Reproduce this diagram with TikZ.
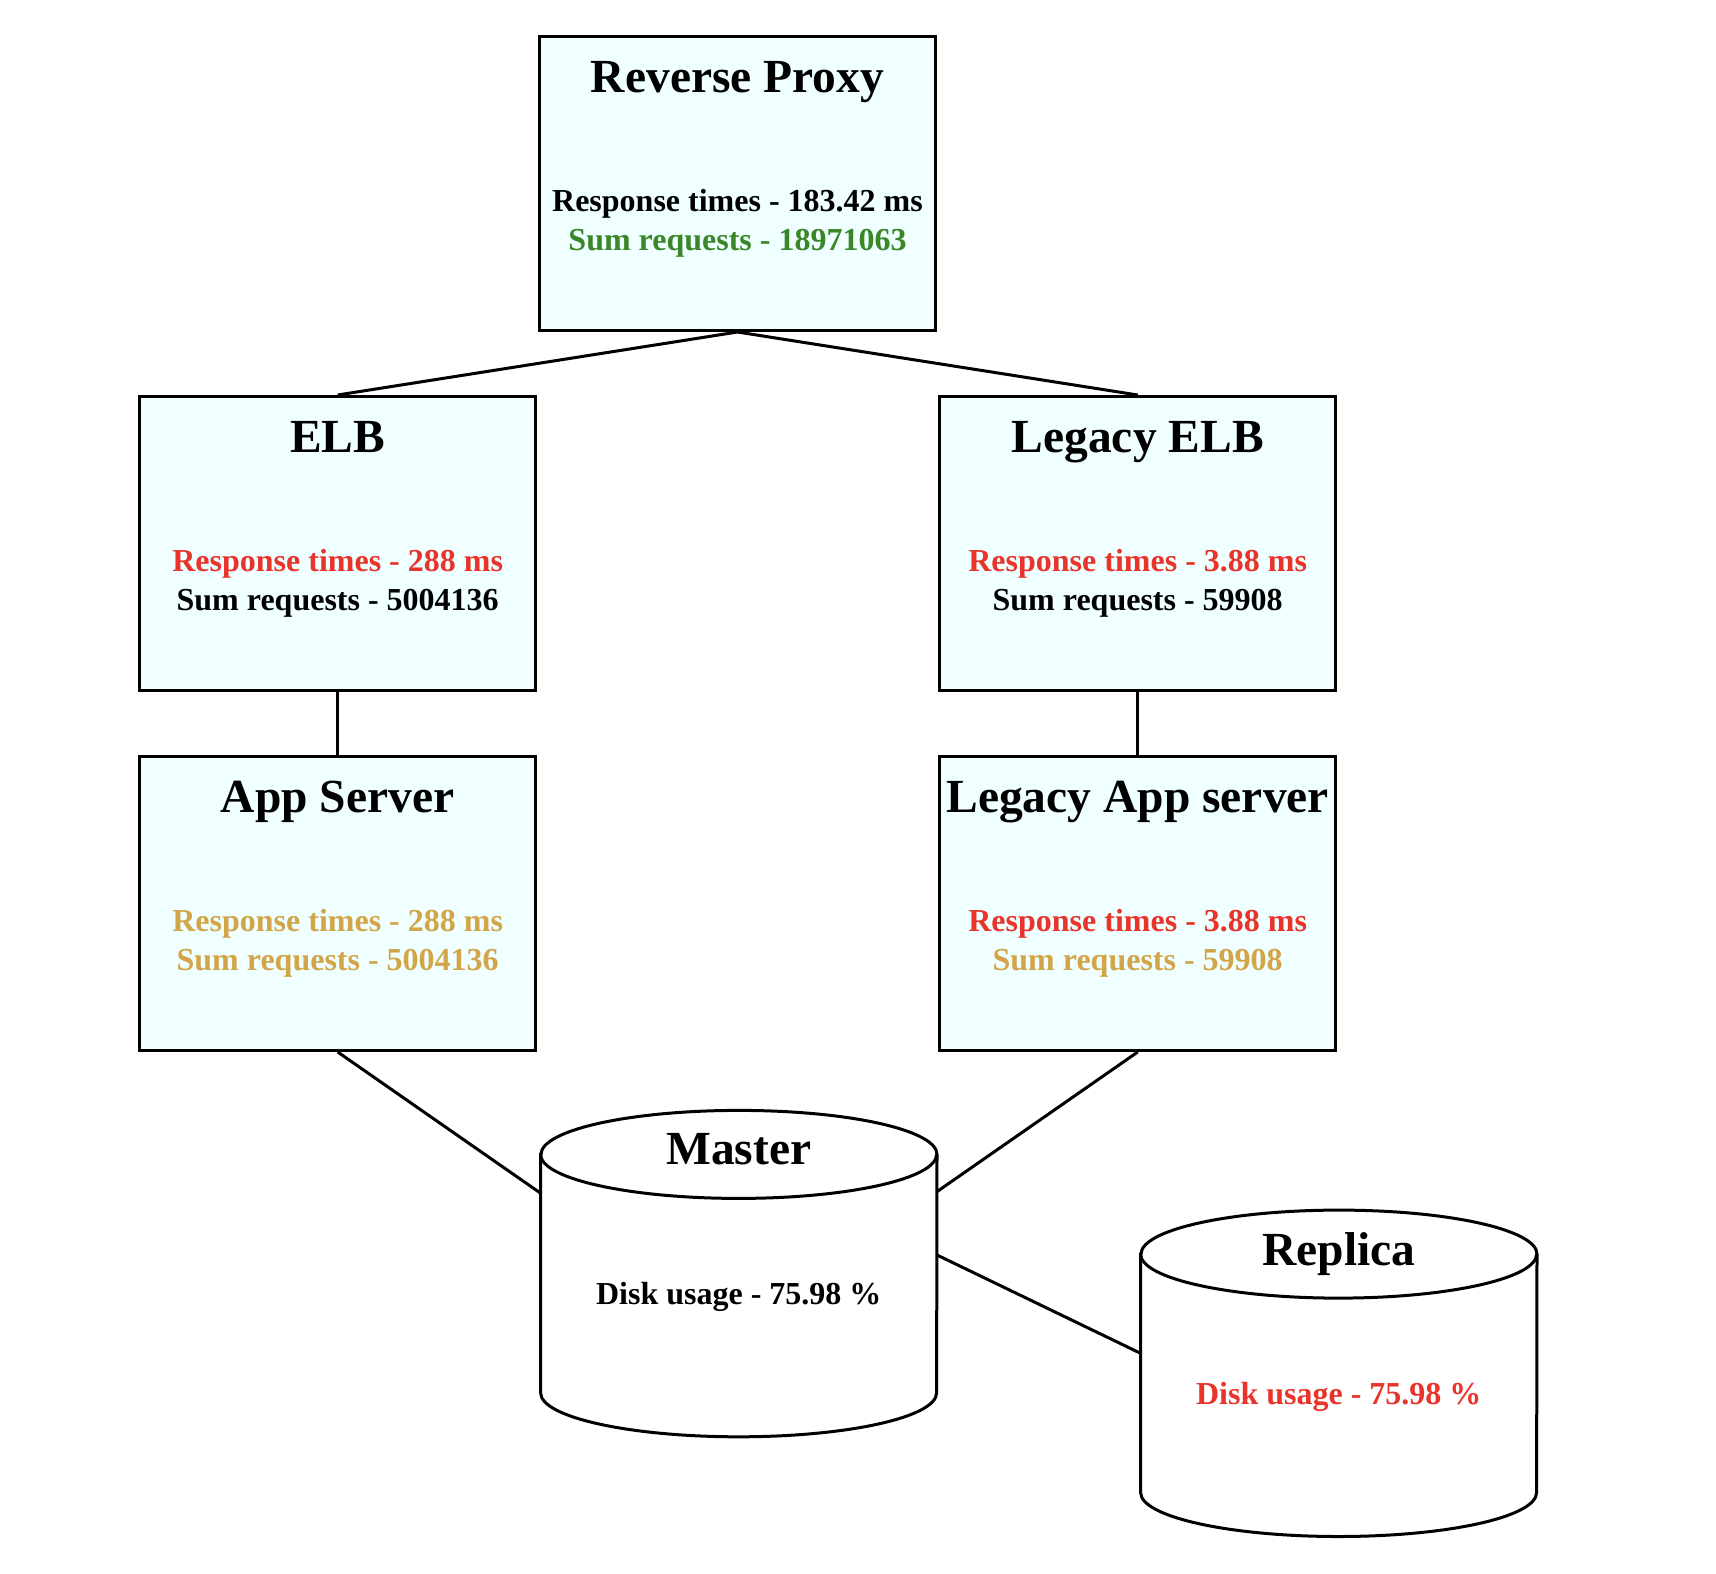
\documentclass[tikz,border=0pt]{standalone}
\usepackage{fontspec}
\setmainfont{Liberation Serif}
\usetikzlibrary{calc}
\definecolor{boxfill}{RGB}{240,255,255}
\definecolor{okgreen}{RGB}{58,135,40}
\definecolor{badred}{RGB}{232,52,42}
\definecolor{warngold}{RGB}{210,165,72}
\begin{document}
\begin{tikzpicture}[x=1pt,y=-1pt,
  svcbox/.style={draw, line width=3pt, fill=boxfill, minimum width=396pt, minimum height=294pt, inner sep=0pt},
  dbarea/.style={draw=none, minimum width=396pt, minimum height=326pt, inner sep=0pt},
  title/.style={anchor=base, inner sep=0pt, font=\fontsize{47.5}{57}\selectfont\bfseries},
  body/.style={anchor=base, inner sep=0pt, font=\fontsize{32}{38}\selectfont\bfseries},
  conn/.style={line width=3pt},
  cylline/.style={line width=3pt}]
\fill[white] (0,0) rectangle (1716,1574);
\useasboundingbox (0,0) rectangle (1716,1574);

% boxes
\node[svcbox] (rp)   at (737.5,183.5) {};
\node[svcbox] (elb)  at (337.7,543.5) {};
\node[svcbox] (lelb) at (1137.7,543.5) {};
\node[svcbox] (app)  at (337.7,903.5) {};
\node[svcbox] (lapp) at (1137.7,903.5) {};

% cylinder areas
\node[dbarea] (master)  at (738.8,1273.6) {};
\node[dbarea] (replica) at (1338.8,1373.3) {};

% connectors
\draw[conn] (rp.south) -- (elb.north);
\draw[conn] (rp.south) -- (lelb.north);
\draw[conn] (elb.south) -- (app.north);
\draw[conn] (lelb.south) -- (lapp.north);
\coordinate (mAppIn)  at ($(master.west)+(0,-80.4)$);
\coordinate (mLAppIn) at ($(master.east)+(0,-82)$);
\coordinate (mRepOut) at ($(master.east)+(0,-18.6)$);
\coordinate (rIn)     at ($(replica.west)+(0,-20)$);
\draw[conn] (app.south) -- (mAppIn);
\draw[conn] (lapp.south) -- (mLAppIn);
\draw[conn] (mRepOut) -- (rIn);

% cylinders
\foreach \c in {master,replica}{
  \draw[cylline, fill=white]
    ($(\c.north west)+(0,44)$) -- ($(\c.south west)+(0,-44)$)
    arc[start angle=180, end angle=360, x radius=198pt, y radius=44pt]
    -- ($(\c.north east)+(0,44)$)
    arc[start angle=0, end angle=180, x radius=198pt, y radius=44pt] -- cycle;
  \draw[cylline] ($(\c.north west)+(0,44)$)
    arc[start angle=180, end angle=360, x radius=198pt, y radius=44pt];
}

% texts: Reverse Proxy
\node[title] (rpT) at ($(rp.north)+(0,57)$) {Reverse Proxy};
\node[body] (rpA) at ($(rp.north)+(0,176.5)$) {Response times - 183.42 ms};
\node[body, text=okgreen] (rpB) at ($(rp.north)+(0,215)$) {Sum requests - 18971063};

% ELB
\node[title] (elbT) at ($(elb.north)+(0,57)$) {ELB};
\node[body, text=badred] (elbA) at ($(elb.north)+(0,176.5)$) {Response times - 288 ms};
\node[body] (elbB) at ($(elb.north)+(0,215)$) {Sum requests - 5004136};

% Legacy ELB
\node[title] (lelbT) at ($(lelb.north)+(0,57)$) {Legacy ELB};
\node[body, text=badred] (lelbA) at ($(lelb.north)+(0,176.5)$) {Response times - 3.88 ms};
\node[body] (lelbB) at ($(lelb.north)+(0,215)$) {Sum requests - 59908};

% App Server
\node[title] (appT) at ($(app.north)+(0,57)$) {App Server};
\node[body, text=warngold] (appA) at ($(app.north)+(0,176.5)$) {Response times - 288 ms};
\node[body, text=warngold] (appB) at ($(app.north)+(0,215)$) {Sum requests - 5004136};

% Legacy App server
\node[title] (lappT) at ($(lapp.north)+(0,57)$) {Legacy App server};
\node[body, text=badred] (lappA) at ($(lapp.north)+(0,176.5)$) {Response times - 3.88 ms};
\node[body, text=warngold] (lappB) at ($(lapp.north)+(0,215)$) {Sum requests - 59908};

% Master
\node[title] (mT) at ($(master.north)+(0,54.3)$) {Master};
\node[body] (mA) at ($(master.north)+(0,194.3)$) {Disk usage - 75.98 \%};

% Replica
\node[title] (rT) at ($(replica.north)+(0,55)$) {Replica};
\node[body, text=badred] (rA) at ($(replica.north)+(0,194.4)$) {Disk usage - 75.98 \%};
\end{tikzpicture}
\end{document}
